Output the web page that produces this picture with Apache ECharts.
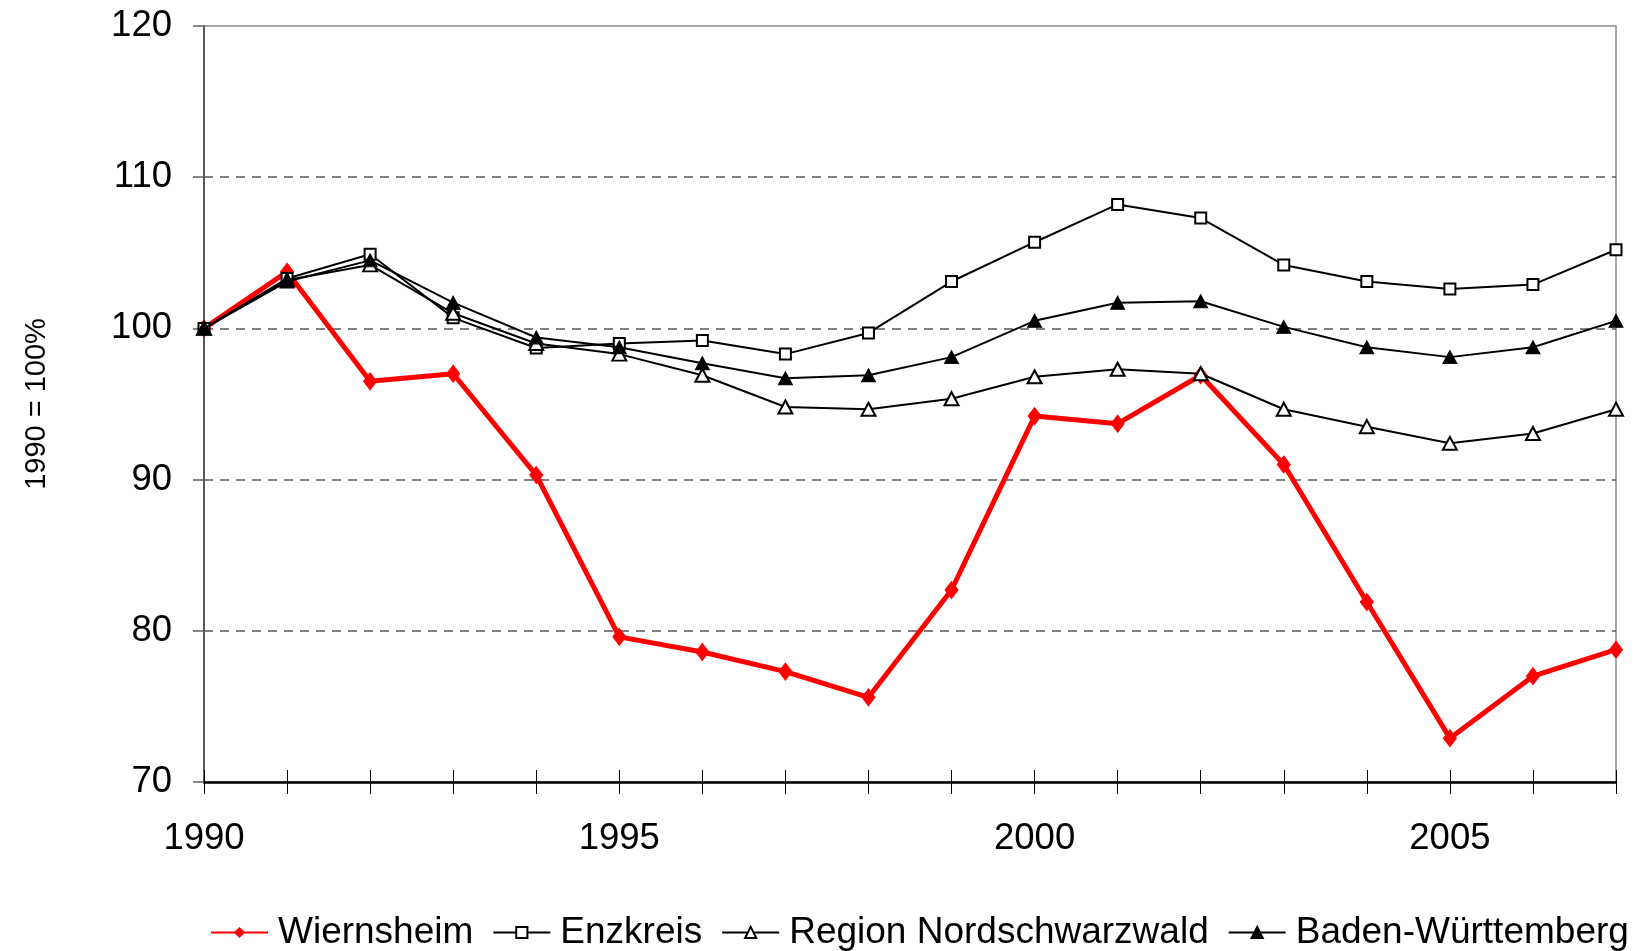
<!DOCTYPE html>
<html>
<head>
<meta charset="utf-8">
<script src="https://cdn.jsdelivr.net/npm/echarts@6/dist/echarts.min.js"></script>
<style>
html,body{margin:0;padding:0;background:#fff;}
#chart{width:1644px;height:951px;}
</style>
</head>
<body>
<div id="chart"></div>
<script>
const years = [1990,1991,1992,1993,1994,1995,1996,1997,1998,1999,2000,2001,2002,2003,2004,2005,2006,2007];
const wiernsheim = [100,103.75,96.5,97.0,90.3,79.6,78.6,77.3,75.6,82.7,94.2,93.7,96.9,91.0,81.9,72.9,77.0,78.75];
const enzkreis = [100,103.3,104.9,100.7,98.7,99.0,99.2,98.3,99.7,103.1,105.7,108.2,107.3,104.2,103.1,102.6,102.9,105.2];
const regionNSW = [100,103.2,104.2,101.0,99.0,98.3,96.9,94.8,94.65,95.35,96.8,97.3,97.0,94.65,93.5,92.4,93.05,94.65];
const badenWue = [100,103.1,104.5,101.7,99.4,98.75,97.7,96.7,96.9,98.1,100.5,101.7,101.8,100.1,98.75,98.1,98.75,100.5];
const seriesNames = ['Wiernsheim','Enzkreis','Region Nordschwarzwald','Baden-Württemberg'];
const yTicks = {min:70, max:120, interval:10};
const yName = '1990 = 100%';

const FONT = 'Liberation Sans, Arial, sans-serif';
const pair = arr => years.map((y,i)=>[y,arr[i]]);

const chart = echarts.init(document.getElementById('chart'), null, {renderer:'canvas'});
chart.setOption({
  animation:false,
  backgroundColor:'#fff',
  textStyle:{fontFamily:FONT},
  grid:{left:204, right:28, top:26, bottom:169, show:true, borderColor:'#8c8c8c', borderWidth:1.5, containLabel:false},
  legend:{
    left:205, top:909, itemWidth:57, itemHeight:14, itemGap:19,
    textStyle:{fontSize:37, color:'#000', fontFamily:FONT, padding:[0,0,0,5]},
    data:seriesNames
  },
  xAxis:[{
    type:'value', min:years[0], max:years[years.length-1], interval:1,
    axisLine:{show:true, onZero:false, lineStyle:{color:'#000', width:2.5}},
    axisTick:{show:true, length:12, lineStyle:{color:'#000', width:1}},
    splitLine:{show:false},
    axisLabel:{margin:38, fontSize:36.5, color:'#000', fontFamily:FONT,
      formatter:v => (v % 5 === 0 ? String(v) : '')}
  },{
    type:'value', position:'bottom', min:years[0], max:years[years.length-1], interval:1,
    axisLine:{show:false},
    axisTick:{show:true, inside:true, length:12, lineStyle:{color:'#000', width:1}},
    axisLabel:{show:false}, splitLine:{show:false}
  }],
  yAxis:{
    type:'value', min:yTicks.min, max:yTicks.max, interval:yTicks.interval,
    name:yName, nameLocation:'middle', nameRotate:90, nameGap:153,
    nameTextStyle:{fontSize:29, color:'#000', fontFamily:FONT},
    axisLine:{show:true, lineStyle:{color:'#404040', width:1.5}},
    axisTick:{show:true, length:11, lineStyle:{color:'#606060', width:1.5}},
    axisLabel:{margin:32, fontSize:36.5, color:'#000', fontFamily:FONT},
    splitLine:{show:true, showMinLine:false, showMaxLine:false, lineStyle:{color:'#555', width:1.5, type:[9,7]}}
  },
  series:[
    {name:seriesNames[0], type:'line', data:pair(wiernsheim), symbol:'diamond', symbolSize:[13,17],
      lineStyle:{color:'#ff0000', width:5}, itemStyle:{color:'#ff0000', borderColor:'#ff0000'}, z:2},
    {name:seriesNames[1], type:'line', data:pair(enzkreis), symbol:'rect', symbolSize:11,
      lineStyle:{color:'#000', width:2}, itemStyle:{color:'#fff', borderColor:'#000', borderWidth:2}, z:3},
    {name:seriesNames[2], type:'line', data:pair(regionNSW), symbol:'triangle', symbolSize:[14,13],
      lineStyle:{color:'#000', width:2}, itemStyle:{color:'#fff', borderColor:'#000', borderWidth:2}, z:4},
    {name:seriesNames[3], type:'line', data:pair(badenWue), symbol:'triangle', symbolSize:[14,13],
      lineStyle:{color:'#000', width:2}, itemStyle:{color:'#000', borderColor:'#000', borderWidth:1}, z:5}
  ]
});
</script>
</body>
</html>
